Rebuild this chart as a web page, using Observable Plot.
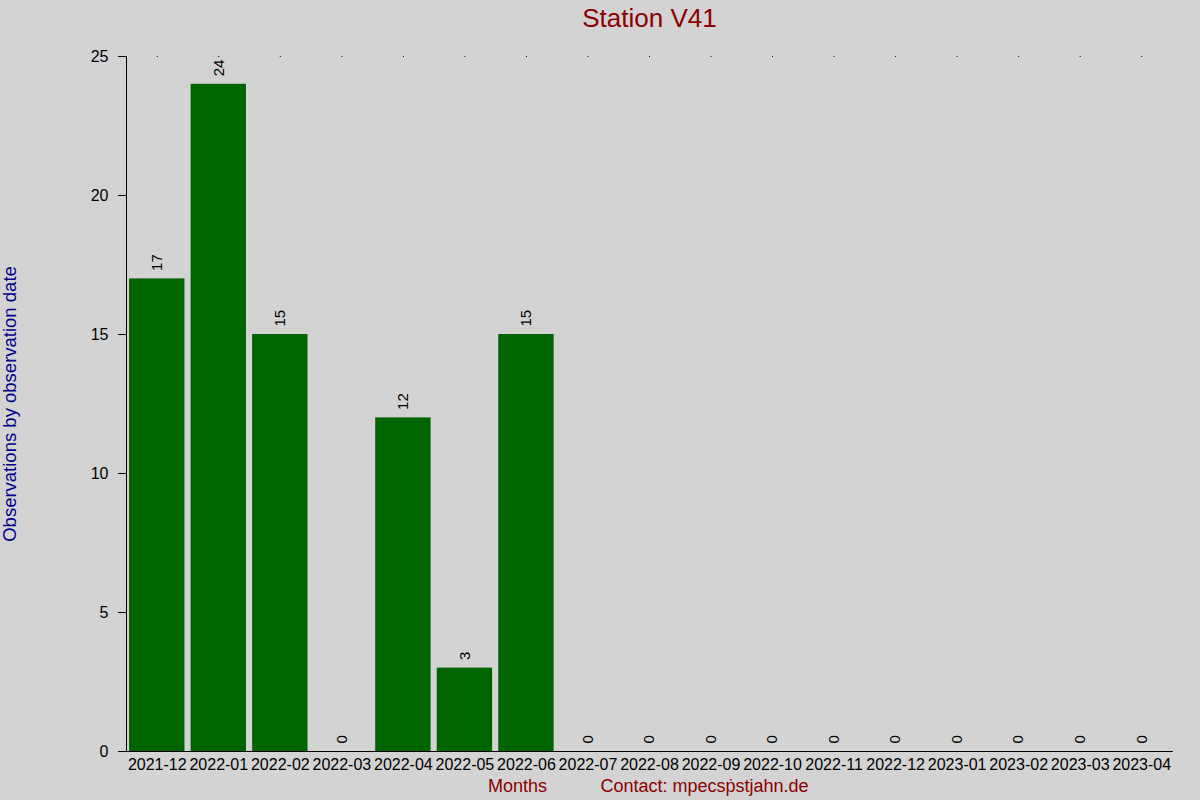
<!DOCTYPE html>
<html>
<head>
<meta charset="utf-8">
<script src="https://cdn.jsdelivr.net/npm/d3@7"></script>
<script src="https://cdn.jsdelivr.net/npm/@observablehq/plot@0.6"></script>
<style>
  html, body { margin: 0; padding: 0; background: #d3d3d3; }
  #chart svg { display: block; }
</style>
</head>
<body>
<div id="chart"></div>
<script>
const months = ["2021-12","2022-01","2022-02","2022-03","2022-04","2022-05","2022-06","2022-07","2022-08","2022-09","2022-10","2022-11","2022-12","2023-01","2023-02","2023-03","2023-04"];
const counts = [17, 24, 15, 0, 12, 3, 15, 0, 0, 0, 0, 0, 0, 0, 0, 0, 0];
const yTicks = [0, 5, 10, 15, 20, 25];
const titleText = "Station V41";
const yTitle = "Observations by observation date";
const xTitle = "Months";
const contactText = "Contact: mpecsṗstjahn.de";

const data = months.map((m, i) => ({month: m, value: counts[i]}));

const chart = Plot.plot({
  width: 1200,
  height: 800,
  marginTop: 56,
  marginBottom: 49,
  marginLeft: 126,
  marginRight: 28,
  style: {background: "#d3d3d3", fontFamily: "'Liberation Sans', Arial, sans-serif", color: "black"},
  x: {domain: months, paddingInner: 0.1, paddingOuter: 0.05, round: false, label: null},
  y: {domain: [0, 25], label: null},
  marks: [
    Plot.barY(data, {x: "month", y: "value", fill: "#006400"}),
    Plot.frame({anchor: "left", stroke: "black"}),
    Plot.frame({anchor: "bottom", stroke: "black"}),
    Plot.axisY({ticks: yTicks, tickSize: 8, tickPadding: 10, fontSize: 16, label: null, tickFormat: d => String(d)}),
    Plot.axisX({anchor: "bottom", tickSize: 0, tickPadding: 7, fontSize: 16, label: null}),
    Plot.axisX({anchor: "top", tickSize: 1, tickFormat: () => "", label: null}),
    Plot.text(data, {x: "month", y: "value", text: d => String(d.value), rotate: -90, textAnchor: "start", dy: -8, fontSize: 15, fill: "black"}),
    Plot.text([titleText], {frameAnchor: "top", dy: -38, lineAnchor: "middle", fontSize: 26, fill: "#8b0000"}),
    Plot.text([xTitle], {frameAnchor: "bottom", dy: 35, dx: -132, lineAnchor: "middle", fontSize: 18, fill: "#8b0000"}),
    Plot.text([contactText], {frameAnchor: "bottom", dy: 35, dx: 55, lineAnchor: "middle", fontSize: 18, fill: "#8b0000"}),
    Plot.text([yTitle], {frameAnchor: "left", dx: -116, rotate: -90, textAnchor: "middle", lineAnchor: "middle", fontSize: 18.5, fill: "#00008b"})
  ]
});
document.getElementById("chart").appendChild(chart);
</script>
</body>
</html>
